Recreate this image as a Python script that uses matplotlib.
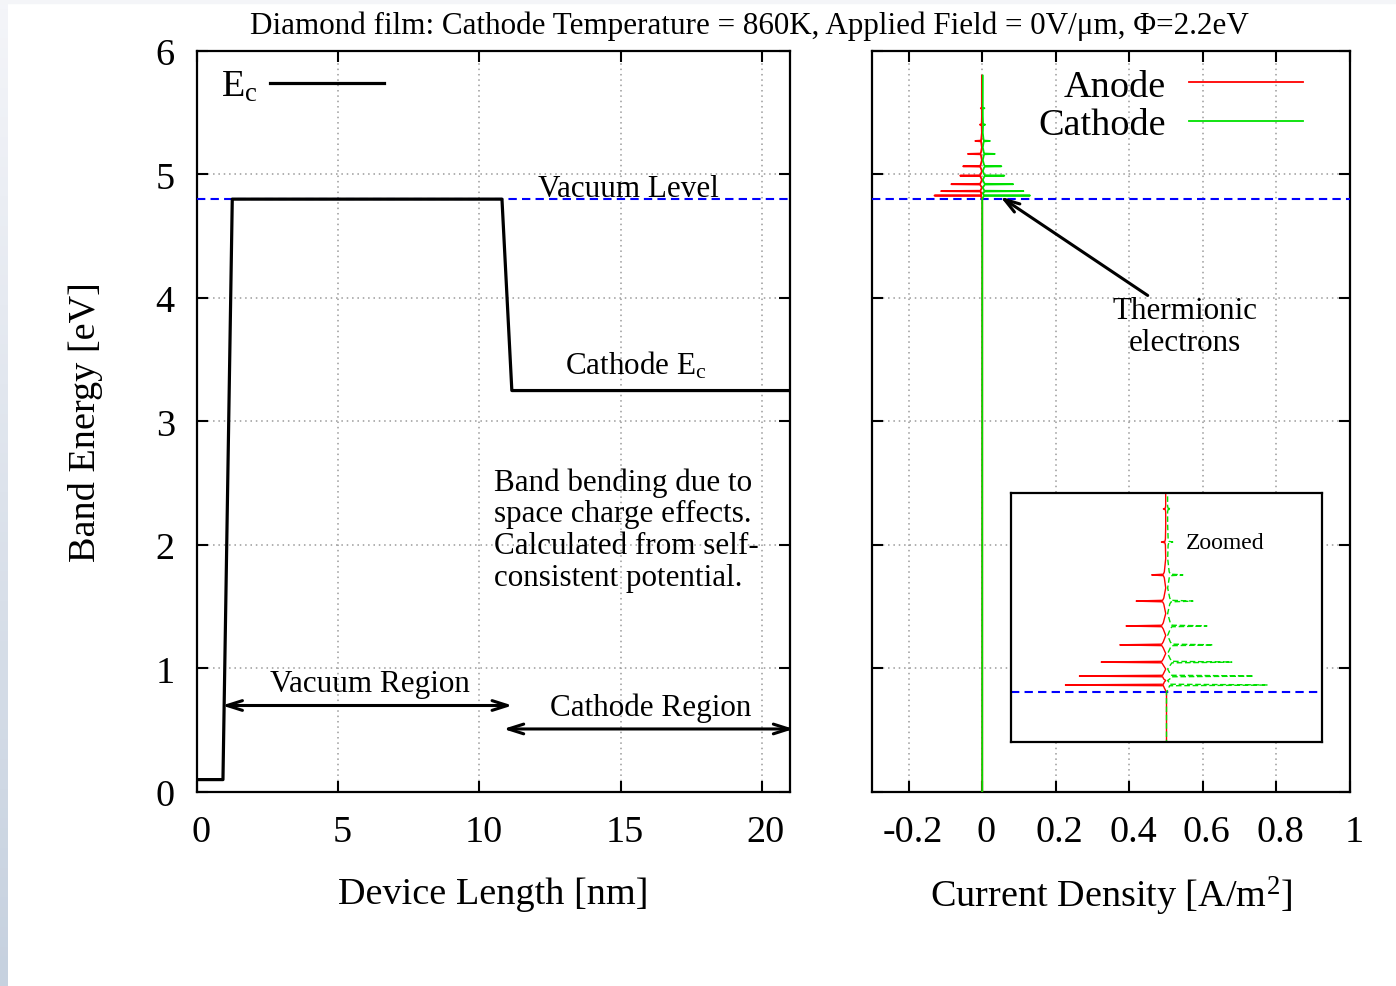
import numpy as np
import matplotlib
matplotlib.use('Agg')
import matplotlib.pyplot as plt
from matplotlib.transforms import ScaledTranslation

plt.rcParams['font.family'] = ['Liberation Serif', 'DejaVu Serif']
plt.rcParams['mathtext.fontset'] = 'custom'
plt.rcParams['mathtext.rm'] = 'Liberation Serif'
plt.rcParams['mathtext.it'] = 'Liberation Serif:italic'

# conduction band edge along the device
ec_x = [0, 0.92, 1.25, 10.8, 11.15, 21]
ec_y = [0.1, 0.1, 4.8, 4.8, 3.25, 3.25]
vacuum_level = 4.8

# resonance peaks of the current density vs energy
peak_e = [4.829, 4.865, 4.921, 4.990, 5.066, 5.166, 5.271, 5.403, 5.536]
anode_peak = [-0.130, -0.112, -0.084, -0.060, -0.052, -0.039, -0.019, -0.0065, -0.004]
anode_base = [-0.004, -0.005, -0.006, -0.006, -0.006, -0.005, -0.004, -0.002, -0.0015]
cathode_peak = [0.130, 0.112, 0.084, 0.060, 0.052, 0.034, 0.021, 0.008, 0.006]
cathode_base = [0.004, 0.006, 0.007, 0.007, 0.007, 0.006, 0.005, 0.003, 0.002]
e_top = 5.8

left_xticks = [0, 5, 10, 15, 20]
right_xticks = [-0.2, 0, 0.2, 0.4, 0.6, 0.8, 1]
right_xlabels = ['-0.2', '0', '0.2', '0.4', '0.6', '0.8', '1']
yticks = [0, 1, 2, 3, 4, 5, 6]

BIG = 27.5
SMALL = 22.4


def current_curve(peaks, bases, mid):
    e = [0.0, vacuum_level]
    j = [0.0, 0.0]
    for k, (ep, jp, jb) in enumerate(zip(peak_e, peaks, bases)):
        e += [ep - 0.012, ep - 0.003, ep - 0.0008, ep, ep + 0.0008, ep + 0.003, ep + 0.012]
        j += [jb * 0.7, jb, jp * 0.85, jp, jp * 0.85, jb, jb * 0.7]
        if k + 1 < len(peak_e):
            e.append((ep + peak_e[k + 1]) / 2)
            j.append(mid)
    e.append(e_top)
    j.append(mid)
    return np.array(e), np.array(j)


anode_e, anode_j = current_curve(anode_peak, anode_base, -0.001)
cath_e, cath_j = current_curve(cathode_peak, cathode_base, 0.0015)

fig = plt.figure(figsize=(13.96, 9.87), dpi=100)

# faint bluish border on the left/top edge of the original screenshot
edge = fig.add_axes([0, 0, 7 / 1396, 1])
edge.imshow(np.linspace(0, 1, 100).reshape(-1, 1), cmap=matplotlib.colors.LinearSegmentedColormap.from_list(
    'e', ['#f4f5f9', '#c6d1df']), aspect='auto', extent=[0, 1, 0, 1])
edge.axis('off')
fig.patches.append(plt.Rectangle((0, 1 - 4 / 987), 1, 4 / 987, transform=fig.transFigure,
                                 color='#f4f5f8', zorder=0))

ax1 = fig.add_axes([0.1411, 0.1966, 0.4248, 0.7508])
ax2 = fig.add_axes([0.6246, 0.1966, 0.3424, 0.7508])
ins = fig.add_axes([0.7242, 0.2472, 0.2228, 0.2523])

for ax in (ax1, ax2, ins):
    for s in ax.spines.values():
        s.set_linewidth(1.6)

for ax in (ax1, ax2):
    ax.set_ylim(0, 6)
    ax.set_yticks(yticks)
    ax.grid(True, color='#9a9a9a', linestyle=(0, (1, 2.5)), linewidth=1.1)
    ax.tick_params(direction='in', length=8, width=1.5, top=True, right=True,
                   labelsize=BIG, pad=16)
    ax.axhline(vacuum_level, color='blue', linestyle=(0, (4, 2.5)), linewidth=1.5, zorder=3)

# ---- left panel: band diagram
ax1.set_xlim(0, 21)
ax1.set_xticks(left_xticks)
ec_line, = ax1.plot(ec_x, ec_y, color='black', linewidth=2.3, label=r'E$_\mathrm{c}$', zorder=4)
ax1.set_xlabel('Device Length [nm]', fontsize=BIG, labelpad=20)
ax1.set_ylabel('Band Energy [eV]', fontsize=BIG, labelpad=38)

ax1.text(15.28, 4.826, 'Vacuum Level', fontsize=SMALL, ha='center', va='baseline')
ax1.text(15.53, 3.39, r'Cathode E$_\mathrm{c}$', fontsize=SMALL, ha='center', va='baseline')
ax1.text(10.53, 2.63, 'Band bending due to\nspace charge effects.\nCalculated from self-\nconsistent potential.',
         fontsize=SMALL, ha='left', va='top', linespacing=1.12)
ax1.text(6.13, 0.818, 'Vacuum Region', fontsize=SMALL, ha='center', va='baseline')
ax1.text(16.06, 0.623, 'Cathode Region', fontsize=SMALL, ha='center', va='baseline')
arrow_kw = dict(arrowstyle='<->,head_length=1.1,head_width=0.35', color='black', lw=2.2,
                shrinkA=0, shrinkB=0)
ax1.annotate('', xy=(11.17, 0.70), xytext=(0.89, 0.70), arrowprops=arrow_kw, annotation_clip=False)
ax1.annotate('', xy=(21.13, 0.51), xytext=(10.85, 0.51), arrowprops=arrow_kw, annotation_clip=False)

ax1.legend(handles=[ec_line], loc='upper left', bbox_to_anchor=(0.025, 0.988), frameon=False,
           markerfirst=False, fontsize=BIG, handlelength=3.0, handletextpad=0.3, borderpad=0.25,
           borderaxespad=0)

# ---- right panel: current density
ax2.set_xlim(-0.3, 1.0)
ax2.set_xticks(right_xticks)
ax2.set_xticklabels(right_xlabels)
ax2.tick_params(axis='y', labelleft=False)
an_line, = ax2.plot(anode_j, anode_e, color='red', linewidth=1.3, label='Anode', zorder=4)
ca_line, = ax2.plot(cath_j, cath_e, color='#00e000', linewidth=1.3, label='Cathode', zorder=5)
ax2.set_xlabel(r'Current Density [A/m$^\mathrm{2}$]', fontsize=BIG, labelpad=18)
ax2.legend(handles=[an_line, ca_line], loc='upper right', bbox_to_anchor=(0.918, 0.986), frameon=False,
           markerfirst=False, fontsize=BIG, handlelength=3.0, handletextpad=0.6, labelspacing=0.1,
           borderpad=0.2, borderaxespad=0)
ax2.annotate('', xy=(0.049, 4.82), xytext=(0.45, 4.02),
             arrowprops=dict(arrowstyle='->,head_length=1.1,head_width=0.35', color='black', lw=2.2,
                             shrinkA=0, shrinkB=0), zorder=6)
ax2.text(0.551, 3.77, 'Thermionic\nelectrons', fontsize=SMALL, ha='center', va='center',
         linespacing=1.12)

# ---- inset: zoom on the thermionic peaks
ins.set_facecolor('white')
ins.set_xlim(-0.2, 0.2)
ins.set_ylim(4.6, 5.6)
ins.set_xticks([])
ins.set_yticks([])
ins.axhline(vacuum_level, color='blue', linestyle=(0, (4, 2.5)), linewidth=1.5)
ins.plot(anode_j, anode_e, color='red', linewidth=1.0)
ins.plot(cath_j, cath_e, color='#00e000', linewidth=1.0, linestyle=(0, (4, 2)))
ins.text(0.563, 0.80, 'Zoomed', fontsize=17, ha='left', va='center', transform=ins.transAxes)

# gnuplot puts the x tick labels a few pixels right of the tick
shift = ScaledTranslation(4 / 100, 0, fig.dpi_scale_trans)
for ax in (ax1, ax2):
    for lab in ax.get_xticklabels():
        lab.set_transform(lab.get_transform() + shift)

fig.text(749 / 1396, 1 - 26 / 987,
         'Diamond film: Cathode Temperature = 860K, Applied Field = 0V/\u03bcm, \u03a6=2.2eV',
         fontsize=SMALL, ha='center', va='center')

fig.savefig('out.png', dpi=100)
